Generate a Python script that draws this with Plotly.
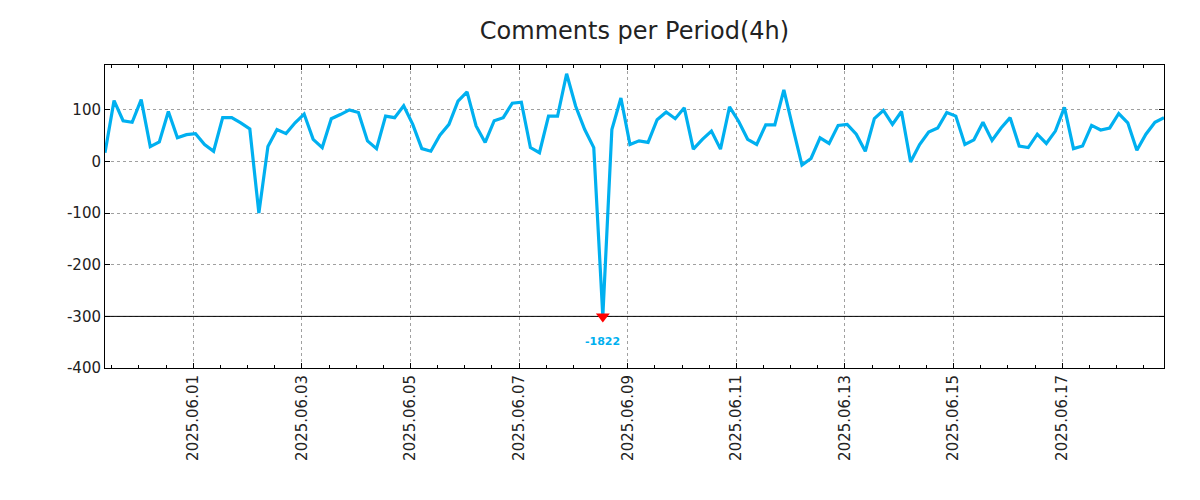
import pandas as pd
import plotly.graph_objects as go

start_time = "2025-05-30 09:00"
period = "4h"
comments = [17, 118, 79, 76, 120, 29, 38, 97, 46, 52,
            54, 33, 20, 85, 85, 75, 63, -100, 29, 62,
            54, 75, 92, 43, 27, 83, 91, 100, 95, 40,
            25, 88, 85, 108, 72, 25, 20, 51, 72, 117,
            135, 69, 37, 79, 85, 113, 115, 27, 17, 88,
            88, 170, 107, 62, 27, -1822, 62, 123, 33, 40,
            37, 81, 96, 83, 104, 24, 43, 59, 24, 106,
            78, 43, 33, 71, 71, 139, 65, -7, 6, 46,
            35, 70, 72, 53, 20, 83, 99, 72, 97, -1,
            33, 57, 65, 95, 88, 33, 42, 76, 41, 65,
            85, 30, 27, 53, 35, 59, 105, 25, 30, 70,
            61, 65, 93, 75, 22, 53, 76, 85]
y_ticks = [-400, -300, -200, -100, 0, 100]
y_tick_labels = ["-400", "-300", "-200", "-100", "0", "100"]
clip_floor = -300
y_top = 187

times = pd.date_range(start_time, periods=len(comments), freq=period)
shown = [max(v, clip_floor) for v in comments]
outliers = [(t, v) for t, v in zip(times, comments) if v < clip_floor]

line_color = "#00b0f0"
font_family = "DejaVu Sans"
W, H = 1192, 492

fig = go.Figure()
fig.add_trace(go.Scatter(x=[times[0], times[-1]], y=[clip_floor, clip_floor], mode="lines",
                         line=dict(color="black", width=1), showlegend=False,
                         hoverinfo="skip"))
fig.add_trace(go.Scatter(x=times, y=shown, mode="lines",
                         line=dict(color=line_color, width=3.2),
                         showlegend=False))
fig.add_trace(go.Scatter(x=[t for t, _ in outliers], y=[clip_floor] * len(outliers),
                         mode="markers",
                         marker=dict(symbol="triangle-down", size=12, color="#ff0000",
                                     line=dict(width=0)),
                         showlegend=False))
for t, v in outliers:
    fig.add_annotation(x=t, y=clip_floor, text=f"<b>{v}</b>", showarrow=False,
                       yshift=-25, font=dict(color=line_color, size=11, family=font_family))

fig.update_layout(
    width=W, height=H,
    paper_bgcolor="white", plot_bgcolor="white",
    margin=dict(l=97, r=36, t=57, b=132),
    font=dict(family=font_family, size=15, color="#222222"),
    title=dict(text="Comments per Period(4h)", x=0.5, xref="paper", y=1 - 23 / H,
               yanchor="middle", xanchor="center",
               font=dict(size=24, family=font_family, color="#222222")),
)
fig.update_xaxes(
    range=[times[0], times[-1]],
    tickformat="%Y.%m.%d", dtick=2 * 86400000, tick0="2025-06-01",
    tickangle=-90, ticks="inside", ticklen=5, tickcolor="black",
    showgrid=True, gridcolor="#a0a0a0", griddash="dot", gridwidth=1,
    showline=True, mirror="ticks", linecolor="black", linewidth=1,
    minor=dict(dtick=43200000, tick0="2025-06-01", ticks="inside", ticklen=3,
               tickcolor="black", showgrid=False),
    tickfont=dict(size=15),
)
fig.update_yaxes(
    range=[-400, y_top], tickvals=y_ticks, ticktext=y_tick_labels,
    ticks="inside", ticklen=5, tickcolor="black",
    showgrid=True, gridcolor="#a0a0a0", griddash="dot", gridwidth=1,
    zeroline=False,
    showline=True, mirror="ticks", linecolor="black", linewidth=1,
    tickfont=dict(size=15),
)

fig.write_html("out.html")
